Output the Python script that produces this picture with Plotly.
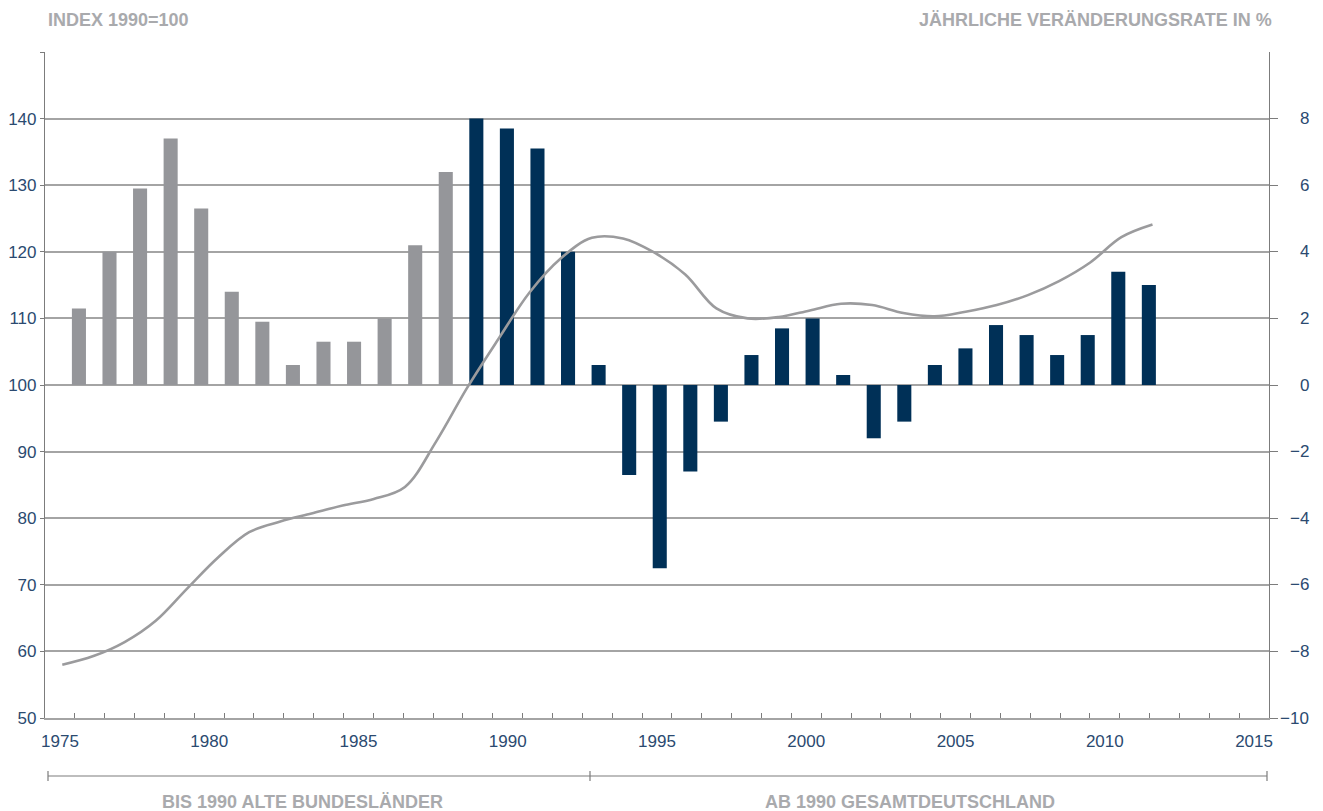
import plotly.graph_objects as go

# ---- data ----
bar_years = list(range(1977, 2013))
bar_rates = [2.3, 4.0, 5.9, 7.4, 5.3, 2.8, 1.9, 0.6, 1.3, 1.3, 2.0, 4.2, 6.4,
             8.0, 7.7, 7.1, 4.0, 0.6, -2.7, -5.5, -2.6, -1.1, 0.9, 1.7, 2.0,
             0.3, -1.6, -1.1, 0.6, 1.1, 1.8, 1.5, 0.9, 1.5, 3.4, 3.0]
line_years = list(range(1977, 2013))
line_index = [58.0, 59.3, 61.4, 64.6, 69.4, 74.1, 77.9, 79.5, 80.7, 81.9, 82.9,
              84.7, 91.5, 99.6, 106.9, 113.9, 119.0, 122.1, 122.0, 119.9, 116.6,
              111.5, 110.0, 110.2, 111.2, 112.2, 112.0, 110.8, 110.3, 111.0,
              112.0, 113.5, 115.6, 118.4, 122.2, 124.1]
x_tick_years = [1975, 1980, 1985, 1990, 1995, 2000, 2005, 2010, 2015]
left_ticks = [50, 60, 70, 80, 90, 100, 110, 120, 130, 140, 150]
right_ticks = [-10, -8, -6, -4, -2, 0, 2, 4, 6, 8]
split_year = 1990

GREY_BAR = "#95969a"
NAVY = "#003057"
LINE_GREY = "#9b9b9d"
GRID = "#a4a4a4"
AXIS = "#7c7c7c"
TICK_TXT = "#2b4a70"
HEAD = "#a9aaad"
FONT = "Liberation Sans, Arial, sans-serif"

old_x = [y for y in bar_years if y < split_year]
old_v = [v for y, v in zip(bar_years, bar_rates) if y < split_year]
new_x = [y for y in bar_years if y >= split_year]
new_v = [v for y, v in zip(bar_years, bar_rates) if y >= split_year]
boundaries = [1974.5 + k for k in range(42)]

fig = go.Figure()
# empty helper traces so that the label axis and the tick axis exist
fig.add_trace(go.Scatter(x=x_tick_years, y=[None] * len(x_tick_years), xaxis="x", yaxis="y",
                         mode="lines", showlegend=False, hoverinfo="skip"))
fig.add_trace(go.Scatter(x=boundaries, y=[None] * len(boundaries), xaxis="x4", yaxis="y",
                         mode="lines", showlegend=False, hoverinfo="skip"))
fig.add_trace(go.Bar(x=old_x, y=old_v, xaxis="x2", yaxis="y2", width=0.46,
                     marker=dict(color=GREY_BAR, line=dict(width=0)), showlegend=False))
fig.add_trace(go.Bar(x=new_x, y=new_v, xaxis="x2", yaxis="y2", width=0.46,
                     marker=dict(color=NAVY, line=dict(width=0)), showlegend=False))
fig.add_trace(go.Scatter(x=line_years, y=line_index, xaxis="x3", yaxis="y",
                         mode="lines", line=dict(color=LINE_GREY, width=2.6, shape="spline", smoothing=1.0),
                         showlegend=False))

hidden = dict(showticklabels=False, showline=False, showgrid=False, zeroline=False,
              ticks="", automargin=False, fixedrange=True)

fig.update_layout(
    width=1323, height=811,
    margin=dict(l=45, r=54, t=52, b=93),
    paper_bgcolor="white", plot_bgcolor="white",
    font=dict(family=FONT, size=17, color=TICK_TXT),
    barmode="overlay",
    xaxis=dict(range=[1974.5, 2015.5], tickmode="array", tickvals=x_tick_years,
               ticks="", automargin=False, showgrid=False, zeroline=False,
               showline=True, linecolor=GRID, linewidth=1.5, fixedrange=True,
               ticklabelstandoff=7,
               tickfont=dict(size=17, color=TICK_TXT)),
    xaxis4=dict(range=[1974.5, 2015.5], overlaying="x", anchor="y", side="bottom",
                tickmode="array", tickvals=boundaries, showticklabels=False,
                ticks="inside", ticklen=5, tickcolor=AXIS, tickwidth=1, fixedrange=True,
                showgrid=False, zeroline=False, showline=False, automargin=False),
    xaxis2=dict(range=[1975.89, 2015.93], overlaying="x", anchor="y2", **hidden),
    xaxis3=dict(range=[1976.445, 2015.74], overlaying="x", anchor="y", **hidden),
    yaxis=dict(range=[50, 150], tickmode="array", tickvals=left_ticks,
               ticktext=[str(v) if v < 150 else "" for v in left_ticks],
               showgrid=True, gridcolor=GRID, gridwidth=1.5, zeroline=False,
               showline=True, linecolor=AXIS, linewidth=1.2, automargin=False,
               ticks="outside", ticklen=4, tickcolor=AXIS, tickwidth=1.2, fixedrange=True,
               tickfont=dict(size=17, color=TICK_TXT)),
    yaxis2=dict(range=[-10, 10], overlaying="y", side="right", anchor="x", tickmode="array",
                tickvals=right_ticks, showticklabels=False, showgrid=False, zeroline=False,
                showline=True, linecolor=AXIS, linewidth=1.2, automargin=False,
                ticks="outside", ticklen=8, tickcolor=AXIS, tickwidth=1.2, fixedrange=True),
)

W = 1323 - 45 - 54
H = 811 - 52 - 93
def px_x(p):
    return (p - 45) / W
def px_y(p):
    return (811 - 93 - p) / H

# right-axis labels, right-aligned, positioned on the right axis scale
for v in right_ticks:
    label = ("\u2212" if v < 0 else "") + str(abs(v))
    fig.add_annotation(text=label, x=px_x(1311), xref="paper", xanchor="right",
                       y=v, yref="y2", yanchor="middle", showarrow=False,
                       font=dict(family=FONT, size=17, color=TICK_TXT))

HEAD_SIZE = 18
# header texts
fig.add_annotation(text="<b>INDEX 1990=100</b>", x=px_x(46), y=px_y(20), xref="paper", yref="paper",
                   xanchor="left", yanchor="middle", showarrow=False,
                   font=dict(family=FONT, size=HEAD_SIZE, color=HEAD))
fig.add_annotation(text="<b>JÄHRLICHE VERÄNDERUNGSRATE IN %</b>", x=px_x(1274), y=px_y(20),
                   xref="paper", yref="paper", xanchor="right", yanchor="middle", showarrow=False,
                   font=dict(family=FONT, size=HEAD_SIZE, color=HEAD))

# bottom bracket
yb = px_y(776)
fig.add_shape(type="line", xref="paper", yref="paper", x0=px_x(48), x1=px_x(1267), y0=yb, y1=yb,
              line=dict(color=AXIS, width=1.2))
for xp in (48, 590, 1267):
    fig.add_shape(type="line", xref="paper", yref="paper", x0=px_x(xp), x1=px_x(xp),
                  y0=px_y(771), y1=px_y(781), line=dict(color=AXIS, width=1.2))
fig.add_annotation(text="<b>BIS 1990 ALTE BUNDESLÄNDER</b>", x=px_x(302), y=px_y(802), xref="paper", yref="paper",
                   xanchor="center", yanchor="middle", showarrow=False,
                   font=dict(family=FONT, size=HEAD_SIZE, color=HEAD))
fig.add_annotation(text="<b>AB 1990 GESAMTDEUTSCHLAND</b>", x=px_x(910), y=px_y(802), xref="paper", yref="paper",
                   xanchor="center", yanchor="middle", showarrow=False,
                   font=dict(family=FONT, size=HEAD_SIZE, color=HEAD))

fig.write_html("out.html", post_script="document.body.style.margin='0';",
               config={"displayModeBar": False})
